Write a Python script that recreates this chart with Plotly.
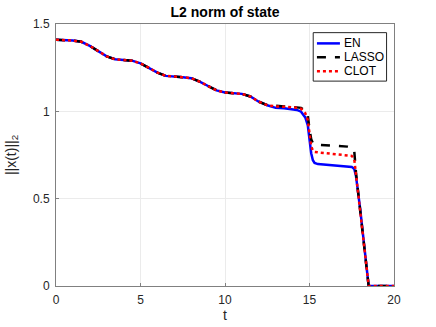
import plotly.graph_objects as go

# time samples (shared by all three series)
t = [0, 0.5, 1, 1.5, 2, 2.5, 3, 3.5, 4, 4.5, 5, 5.5, 6, 6.5, 7, 7.5, 8, 8.5,
     9, 9.5, 10, 10.5, 11, 11.5, 12, 12.5, 13, 13.5, 14, 14.25, 14.5, 14.75,
     14.9, 15.0, 15.1, 15.2, 15.3, 15.5, 16, 16.5, 17, 17.25, 17.5, 17.65,
     17.75, 18.0, 18.25, 18.5, 19, 19.5, 20]

common = [1.410, 1.408, 1.405, 1.398, 1.375, 1.345, 1.315, 1.298, 1.295, 1.290,
          1.275, 1.250, 1.222, 1.203, 1.197, 1.195, 1.190, 1.170, 1.145, 1.120,
          1.108, 1.105, 1.100, 1.085, 1.055, 1.035]

en = common + [1.020, 1.017, 1.012, 1.008, 0.998, 0.965, 0.92, 0.83, 0.76,
               0.72, 0.705, 0.698, 0.694, 0.690, 0.688, 0.686, 0.682, 0.670,
               0.630, 0.440, 0.210, 0.0, 0.0, 0.0, 0.0]

lasso = common + [1.030, 1.028, 1.025, 1.023, 1.020, 1.002, 0.975, 0.900,
                  0.840, 0.818, 0.812, 0.809, 0.807, 0.805, 0.801, 0.798,
                  0.792, 0.770, 0.650, 0.450, 0.215, 0.0, 0.0, 0.0, 0.0]

clot = common + [1.028, 1.026, 1.023, 1.020, 1.015, 0.990, 0.950, 0.860,
                 0.800, 0.775, 0.768, 0.765, 0.760, 0.757, 0.753, 0.750,
                 0.745, 0.725, 0.645, 0.450, 0.215, 0.0, 0.0, 0.0, 0.0]

names = ["EN", "LASSO", "CLOT"]
colors = ["#0000ff", "#000000", "#ff0000"]
dashes = ["solid", "dash", "dot"]

font = "Liberation Sans, Arial, Helvetica, sans-serif"

fig = go.Figure()
for name, ys, c, d in zip(names, [en, lasso, clot], colors, dashes):
    fig.add_scatter(x=t, y=ys, name=name, mode="lines",
                    line=dict(color=c, width=2.5, dash=d))

# MATLAB-style legend box drawn in paper coordinates
fig.add_shape(type="rect", xref="paper", yref="paper",
              x0=0.761, x1=0.978, y0=0.782, y1=0.967,
              line=dict(color="#262626", width=1), fillcolor="white",
              layer="above")
for i, (name, c, d) in enumerate(zip(names, colors, dashes)):
    yy = 0.926 - i * 0.053
    fig.add_shape(type="line", xref="paper", yref="paper",
                  x0=0.772, x1=0.840, y0=yy, y1=yy, layer="above",
                  line=dict(color=c, width=2.5, dash=d))
    fig.add_annotation(x=0.846, y=yy, xref="paper", yref="paper",
                       text=name, showarrow=False, xanchor="left",
                       yanchor="middle",
                       font=dict(size=12, color="#000000", family=font))

axis = dict(showline=True, mirror=True, linecolor="#808080", linewidth=1,
            showgrid=True, gridcolor="#ebebeb", gridwidth=1, zeroline=False,
            ticks="inside", ticklen=3, tickcolor="#808080", automargin=False,
            ticklabelstandoff=3,
            tickfont=dict(size=12, color="#262626", family=font))

fig.update_layout(
    width=436, height=327,
    margin=dict(l=56, r=42, t=24, b=41, autoexpand=False),
    paper_bgcolor="white", plot_bgcolor="white",
    font=dict(family=font, color="#262626"),
    title=dict(text="<b>L2 norm of state</b>", x=(56 + 394) / 2 / 436,
               xanchor="center", y=1 - 12 / 327, yanchor="middle",
               automargin=False,
               font=dict(size=14, color="#000000")),
    xaxis=dict(axis, range=[0, 20], tickvals=[0, 5, 10, 15, 20],
               title=dict(text="t", font=dict(size=14), standoff=0)),
    yaxis=dict(axis, range=[0, 1.5], tickvals=[0, 0.5, 1, 1.5],
               ticktext=["0", "0.5", "1", "1.5"],
               title=dict(text="||x(t)||<sub>2</sub>", font=dict(size=14),
                          standoff=13)),
    showlegend=False,
)

fig.write_html("out.html", config={"displayModeBar": False},
               post_script="document.body.style.margin='0';")
